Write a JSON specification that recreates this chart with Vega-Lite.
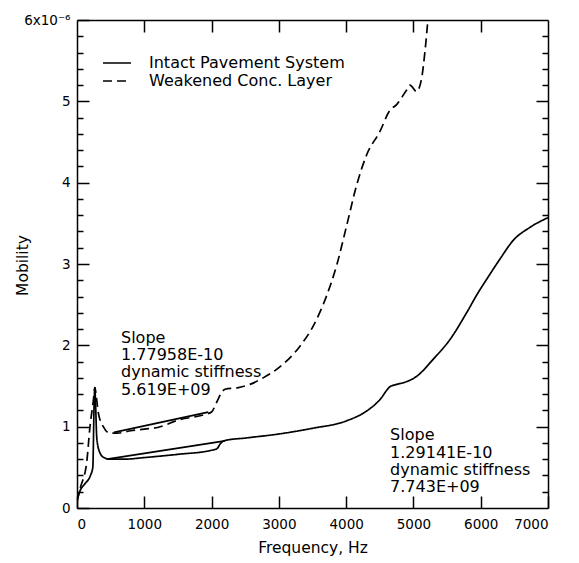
{
  "$schema": "https://vega.github.io/schema/vega-lite/v6.json",
  "width": 471,
  "height": 488,
  "autosize": {"type": "none"},
  "padding": {"left": 77, "top": 20, "right": 31, "bottom": 55},
  "background": "white",
  "config": {
    "font": "DejaVu Sans",
    "view": {"stroke": null},
    "axis": {"grid": false, "domainColor": "black", "domainWidth": 1.5, "tickColor": "black", "tickWidth": 1.5, "labelColor": "black", "titleColor": "black", "labelFont": "DejaVu Sans", "titleFont": "DejaVu Sans", "labelFontSize": 13.5, "titleFontSize": 15.5, "titleFontWeight": "normal"},
    "legend": {"labelFont": "DejaVu Sans"}
  },
  "datasets": {
    "curves": [
      {"f": 0, "m": 0.1, "s": "Intact Pavement System"},
      {"f": 50, "m": 0.22, "s": "Intact Pavement System"},
      {"f": 120, "m": 0.3, "s": "Intact Pavement System"},
      {"f": 200, "m": 0.4, "s": "Intact Pavement System"},
      {"f": 235, "m": 0.5, "s": "Intact Pavement System"},
      {"f": 255, "m": 1.3, "s": "Intact Pavement System"},
      {"f": 265, "m": 1.48, "s": "Intact Pavement System"},
      {"f": 275, "m": 1.3, "s": "Intact Pavement System"},
      {"f": 295, "m": 0.85, "s": "Intact Pavement System"},
      {"f": 340, "m": 0.68, "s": "Intact Pavement System"},
      {"f": 400, "m": 0.62, "s": "Intact Pavement System"},
      {"f": 480, "m": 0.6, "s": "Intact Pavement System"},
      {"f": 700, "m": 0.6, "s": "Intact Pavement System"},
      {"f": 1000, "m": 0.62, "s": "Intact Pavement System"},
      {"f": 1500, "m": 0.66, "s": "Intact Pavement System"},
      {"f": 2000, "m": 0.71, "s": "Intact Pavement System"},
      {"f": 2080, "m": 0.73, "s": "Intact Pavement System"},
      {"f": 2130, "m": 0.79, "s": "Intact Pavement System"},
      {"f": 2200, "m": 0.83, "s": "Intact Pavement System"},
      {"f": 2500, "m": 0.86, "s": "Intact Pavement System"},
      {"f": 3000, "m": 0.91, "s": "Intact Pavement System"},
      {"f": 3500, "m": 0.98, "s": "Intact Pavement System"},
      {"f": 4000, "m": 1.07, "s": "Intact Pavement System"},
      {"f": 4300, "m": 1.19, "s": "Intact Pavement System"},
      {"f": 4500, "m": 1.33, "s": "Intact Pavement System"},
      {"f": 4650, "m": 1.49, "s": "Intact Pavement System"},
      {"f": 4750, "m": 1.52, "s": "Intact Pavement System"},
      {"f": 4850, "m": 1.54, "s": "Intact Pavement System"},
      {"f": 5050, "m": 1.62, "s": "Intact Pavement System"},
      {"f": 5295, "m": 1.83, "s": "Intact Pavement System"},
      {"f": 5542, "m": 2.07, "s": "Intact Pavement System"},
      {"f": 5790, "m": 2.4, "s": "Intact Pavement System"},
      {"f": 5963, "m": 2.65, "s": "Intact Pavement System"},
      {"f": 6087, "m": 2.81, "s": "Intact Pavement System"},
      {"f": 6285, "m": 3.06, "s": "Intact Pavement System"},
      {"f": 6483, "m": 3.29, "s": "Intact Pavement System"},
      {"f": 6731, "m": 3.45, "s": "Intact Pavement System"},
      {"f": 7000, "m": 3.57, "s": "Intact Pavement System"},
      {"f": 0, "m": 0.08, "s": "Weakened Conc. Layer"},
      {"f": 50, "m": 0.25, "s": "Weakened Conc. Layer"},
      {"f": 144, "m": 0.56, "s": "Weakened Conc. Layer"},
      {"f": 193, "m": 1.0, "s": "Weakened Conc. Layer"},
      {"f": 240, "m": 1.3, "s": "Weakened Conc. Layer"},
      {"f": 267, "m": 1.48, "s": "Weakened Conc. Layer"},
      {"f": 290, "m": 1.35, "s": "Weakened Conc. Layer"},
      {"f": 317, "m": 1.17, "s": "Weakened Conc. Layer"},
      {"f": 391, "m": 1.0, "s": "Weakened Conc. Layer"},
      {"f": 490, "m": 0.92, "s": "Weakened Conc. Layer"},
      {"f": 600, "m": 0.92, "s": "Weakened Conc. Layer"},
      {"f": 800, "m": 0.95, "s": "Weakened Conc. Layer"},
      {"f": 1000, "m": 0.97, "s": "Weakened Conc. Layer"},
      {"f": 1200, "m": 0.99, "s": "Weakened Conc. Layer"},
      {"f": 1500, "m": 1.08, "s": "Weakened Conc. Layer"},
      {"f": 1900, "m": 1.15, "s": "Weakened Conc. Layer"},
      {"f": 2000, "m": 1.18, "s": "Weakened Conc. Layer"},
      {"f": 2075, "m": 1.3, "s": "Weakened Conc. Layer"},
      {"f": 2150, "m": 1.42, "s": "Weakened Conc. Layer"},
      {"f": 2200, "m": 1.46, "s": "Weakened Conc. Layer"},
      {"f": 2400, "m": 1.48, "s": "Weakened Conc. Layer"},
      {"f": 2570, "m": 1.52, "s": "Weakened Conc. Layer"},
      {"f": 2767, "m": 1.6, "s": "Weakened Conc. Layer"},
      {"f": 2991, "m": 1.72, "s": "Weakened Conc. Layer"},
      {"f": 3314, "m": 1.99, "s": "Weakened Conc. Layer"},
      {"f": 3512, "m": 2.24, "s": "Weakened Conc. Layer"},
      {"f": 3710, "m": 2.61, "s": "Weakened Conc. Layer"},
      {"f": 3858, "m": 2.98, "s": "Weakened Conc. Layer"},
      {"f": 4007, "m": 3.47, "s": "Weakened Conc. Layer"},
      {"f": 4156, "m": 3.97, "s": "Weakened Conc. Layer"},
      {"f": 4304, "m": 4.34, "s": "Weakened Conc. Layer"},
      {"f": 4502, "m": 4.63, "s": "Weakened Conc. Layer"},
      {"f": 4651, "m": 4.89, "s": "Weakened Conc. Layer"},
      {"f": 4750, "m": 4.96, "s": "Weakened Conc. Layer"},
      {"f": 4899, "m": 5.14, "s": "Weakened Conc. Layer"},
      {"f": 4948, "m": 5.2, "s": "Weakened Conc. Layer"},
      {"f": 5047, "m": 5.12, "s": "Weakened Conc. Layer"},
      {"f": 5121, "m": 5.28, "s": "Weakened Conc. Layer"},
      {"f": 5171, "m": 5.61, "s": "Weakened Conc. Layer"},
      {"f": 5225, "m": 6.1, "s": "Weakened Conc. Layer"}
    ],
    "fits": [
      {"f": 450, "m": 0.6, "fit": "intact"},
      {"f": 2200, "m": 0.826, "fit": "intact"},
      {"f": 550, "m": 0.93, "fit": "weakened"},
      {"f": 1950, "m": 1.179, "fit": "weakened"}
    ],
    "note1": [
      {"f": 654, "m": 2.19, "t": "Slope\n1.77958E-10\ndynamic stiffness\n5.619E+09"}
    ],
    "note2": [
      {"f": 4653, "m": 0.99, "t": "Slope\n1.29141E-10\ndynamic stiffness\n7.743E+09"}
    ]
  },
  "resolve": {"axis": {"x": "independent", "y": "independent"}},
  "layer": [
    {
      "data": {"name": "curves"},
      "mark": {"type": "line", "color": "black", "strokeWidth": 1.7, "clip": true, "interpolate": "monotone"},
      "encoding": {
        "x": {"field": "f", "type": "quantitative", "scale": {"domain": [0, 7000], "nice": false},
          "axis": {"orient": "bottom", "values": [0, 1000, 2000, 3000, 4000, 5000, 6000, 7000], "format": "d", "tickSize": -12, "labelPadding": 21, "title": "Frequency, Hz", "titlePadding": 10}},
        "y": {"field": "m", "type": "quantitative", "scale": {"domain": [0, 6], "nice": false},
          "axis": {"orient": "left", "values": [0, 1, 2, 3, 4, 5, 6], "tickSize": -12, "labelPadding": 19, "labelExpr": "datum.value == 6 ? '6x10⁻⁶' : datum.label", "title": "Mobility", "titleX": -55, "titleY": 245, "titleAngle": -90, "titleBaseline": "middle"}},
        "strokeDash": {"field": "s", "type": "nominal",
          "scale": {"domain": ["Intact Pavement System", "Weakened Conc. Layer"], "range": [[1, 0], [9, 5]]},
          "legend": {"title": null, "orient": "none", "legendX": 32, "legendY": 35, "symbolType": "M-2.8,0H2.8", "symbolSize": 100, "symbolStrokeColor": "black", "symbolFillColor": "transparent", "symbolStrokeWidth": 1.7, "labelFontSize": 16, "labelColor": "black", "labelOffset": 24, "labelLimit": 400, "rowPadding": 2}}
      }
    },
    {
      "data": {"name": "fits"},
      "mark": {"type": "line", "color": "black", "strokeWidth": 1.7},
      "encoding": {
        "x": {"field": "f", "type": "quantitative", "scale": {"domain": [0, 7000], "nice": false},
          "axis": {"orient": "top", "values": [1000, 2000, 3000, 4000, 5000, 6000], "labels": false, "tickSize": -12, "title": null}},
        "y": {"field": "m", "type": "quantitative", "scale": {"domain": [0, 6], "nice": false},
          "axis": {"orient": "right", "values": [1, 2, 3, 4, 5], "labels": false, "tickSize": -12, "title": null}},
        "detail": {"field": "fit", "type": "nominal"}
      }
    },
    {
      "data": {"name": "note1"},
      "mark": {"type": "text", "align": "left", "baseline": "top", "font": "DejaVu Sans", "fontSize": 16, "lineHeight": 17.3, "lineBreak": "\n", "color": "black"},
      "encoding": {
        "x": {"field": "f", "type": "quantitative", "scale": {"domain": [0, 7000], "nice": false}, "axis": null},
        "y": {"field": "m", "type": "quantitative", "scale": {"domain": [0, 6], "nice": false},
          "axis": {"orient": "left", "values": [0.2, 0.4, 0.6, 0.8, 1.2, 1.4, 1.6, 1.8, 2.2, 2.4, 2.6, 2.8, 3.2, 3.4, 3.6, 3.8, 4.2, 4.4, 4.6, 4.8, 5.2, 5.4, 5.6, 5.8], "labels": false, "domain": false, "tickSize": -6, "title": null}},
        "text": {"field": "t"}
      }
    },
    {
      "data": {"name": "note2"},
      "mark": {"type": "text", "align": "left", "baseline": "top", "font": "DejaVu Sans", "fontSize": 16, "lineHeight": 17.3, "lineBreak": "\n", "color": "black"},
      "encoding": {
        "x": {"field": "f", "type": "quantitative", "scale": {"domain": [0, 7000], "nice": false}, "axis": null},
        "y": {"field": "m", "type": "quantitative", "scale": {"domain": [0, 6], "nice": false},
          "axis": {"orient": "right", "values": [0.2, 0.4, 0.6, 0.8, 1.2, 1.4, 1.6, 1.8, 2.2, 2.4, 2.6, 2.8, 3.2, 3.4, 3.6, 3.8, 4.2, 4.4, 4.6, 4.8, 5.2, 5.4, 5.6, 5.8], "labels": false, "domain": false, "tickSize": -6, "title": null}},
        "text": {"field": "t"}
      }
    }
  ]
}
